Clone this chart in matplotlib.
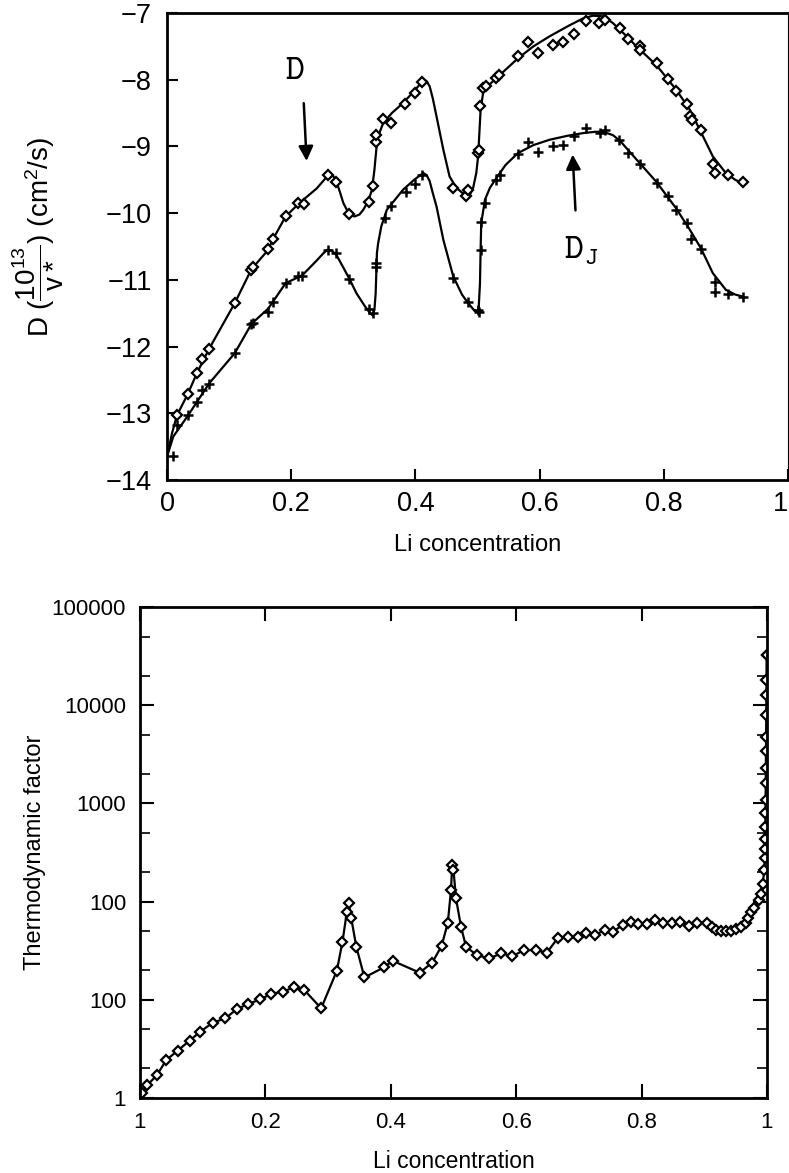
import matplotlib
matplotlib.use('Agg')
import matplotlib.pyplot as plt
from matplotlib.ticker import FixedLocator, NullFormatter

plt.rcParams['font.family'] = ['Liberation Sans', 'DejaVu Sans']
plt.rcParams['mathtext.fontset'] = 'custom'
plt.rcParams['mathtext.rm'] = 'Liberation Sans'
plt.rcParams['mathtext.it'] = 'Liberation Sans:italic'

# ---- top panel: log10 D and D_J (markers = simulation, line = fit) ----
d_x = [0.016, 0.034, 0.048, 0.056, 0.068, 0.109, 0.136, 0.138, 0.163, 0.170, 0.191,
       0.211, 0.220, 0.260, 0.272, 0.293, 0.325, 0.331, 0.336, 0.337, 0.348, 0.361,
       0.383, 0.399, 0.411, 0.460, 0.481, 0.485, 0.501, 0.502, 0.504, 0.509, 0.514,
       0.530, 0.535, 0.565, 0.581, 0.597, 0.622, 0.638, 0.656, 0.674, 0.696, 0.705,
       0.729, 0.742, 0.761, 0.762, 0.789, 0.807, 0.820, 0.837, 0.843, 0.845, 0.860,
       0.880, 0.882, 0.903, 0.927]
d_y = [-13.03, -12.71, -12.40, -12.18, -12.03, -11.35, -10.85, -10.80, -10.53, -10.38, -10.04,
       -9.85, -9.86, -9.43, -9.53, -10.02, -9.84, -9.59, -8.93, -8.83, -8.59, -8.65,
       -8.36, -8.20, -8.03, -9.63, -9.75, -9.65, -9.10, -9.05, -8.39, -8.13, -8.10,
       -7.98, -7.93, -7.64, -7.44, -7.60, -7.48, -7.44, -7.31, -7.12, -7.15, -7.10,
       -7.23, -7.39, -7.50, -7.55, -7.75, -7.99, -8.17, -8.36, -8.55, -8.60, -8.75,
       -9.26, -9.40, -9.43, -9.54]

dj_x = [0.009, 0.016, 0.034, 0.048, 0.056, 0.068, 0.109, 0.136, 0.138, 0.163, 0.170,
        0.191, 0.211, 0.218, 0.260, 0.272, 0.293, 0.326, 0.331, 0.337, 0.337, 0.351,
        0.360, 0.385, 0.399, 0.411, 0.461, 0.485, 0.501, 0.502, 0.505, 0.506, 0.512,
        0.530, 0.536, 0.565, 0.581, 0.597, 0.622, 0.638, 0.655, 0.674, 0.697, 0.705,
        0.728, 0.742, 0.762, 0.789, 0.807, 0.820, 0.837, 0.844, 0.860, 0.882, 0.882,
        0.903, 0.927]
dj_y = [-13.64, -13.18, -13.03, -12.83, -12.65, -12.56, -12.10, -11.66, -11.64, -11.48, -11.33,
        -11.05, -10.94, -10.94, -10.55, -10.60, -10.99, -11.43, -11.49, -10.75, -10.80, -10.08,
        -9.90, -9.68, -9.57, -9.43, -10.97, -11.33, -11.45, -11.48, -10.55, -10.14, -9.85,
        -9.50, -9.43, -9.11, -8.93, -9.08, -8.99, -8.98, -8.84, -8.73, -8.80, -8.76,
        -8.90, -9.10, -9.26, -9.55, -9.75, -9.96, -10.15, -10.38, -10.53, -11.03, -11.18,
        -11.21, -11.25]

# fitted curves
d_fit_x = [0.0, 0.008, 0.016, 0.034, 0.048, 0.068, 0.109, 0.136, 0.163, 0.170, 0.191, 0.213,
           0.241, 0.255, 0.262, 0.268, 0.273, 0.279, 0.284, 0.293, 0.302, 0.310, 0.316,
           0.324, 0.330, 0.334, 0.337, 0.340, 0.348, 0.362, 0.380, 0.398, 0.408, 0.413,
           0.418, 0.423, 0.428, 0.434, 0.445, 0.455, 0.466, 0.476, 0.482, 0.488, 0.493,
           0.498, 0.501, 0.503, 0.505, 0.509, 0.516, 0.530, 0.565, 0.590, 0.616, 0.645,
           0.670, 0.686, 0.702, 0.718, 0.737, 0.756, 0.788, 0.820, 0.842, 0.858, 0.879,
           0.900, 0.915, 0.927]
d_fit_y = [-13.65, -13.30, -13.03, -12.70, -12.40, -12.03, -11.35, -10.84, -10.55, -10.40,
           -10.05, -9.85, -9.63, -9.48, -9.42, -9.45, -9.53, -9.70, -9.85, -10.01, -10.05,
           -10.02, -9.95, -9.82, -9.65, -9.35, -9.05, -8.85, -8.65, -8.50, -8.35, -8.17,
           -8.06, -8.01, -8.02, -8.10, -8.28, -8.55, -9.05, -9.45, -9.62, -9.70, -9.73,
           -9.72, -9.62, -9.40, -9.15, -8.80, -8.45, -8.20, -8.10, -7.98, -7.68, -7.50,
           -7.35, -7.20, -7.08, -7.04, -7.05, -7.15, -7.32, -7.50, -7.78, -8.15, -8.45,
           -8.75, -9.15, -9.40, -9.50, -9.55]

dj_fit_x = [0.0, 0.010, 0.034, 0.068, 0.109, 0.136, 0.163, 0.191, 0.218, 0.240, 0.252,
            0.258, 0.265, 0.273, 0.283, 0.294, 0.305, 0.319, 0.327, 0.331, 0.334, 0.336,
            0.337, 0.338, 0.340, 0.345, 0.354, 0.367, 0.380, 0.398, 0.408, 0.413, 0.418,
            0.423, 0.428, 0.434, 0.445, 0.461, 0.475, 0.485, 0.494, 0.500, 0.502, 0.504,
            0.505, 0.506, 0.512, 0.520, 0.530, 0.545, 0.565, 0.590, 0.616, 0.645, 0.670,
            0.690, 0.702, 0.718, 0.730, 0.745, 0.788, 0.820, 0.842, 0.860, 0.879, 0.900,
            0.915, 0.927]
dj_fit_y = [-13.65, -13.35, -13.03, -12.55, -12.10, -11.66, -11.43, -11.05, -10.93, -10.72,
            -10.60, -10.55, -10.56, -10.63, -10.80, -10.99, -11.20, -11.40, -11.50, -11.53,
            -11.45, -11.20, -10.90, -10.60, -10.45, -10.20, -9.95, -9.80, -9.65, -9.50,
            -9.43, -9.40, -9.43, -9.52, -9.70, -9.90, -10.40, -10.95, -11.22, -11.35, -11.45,
            -11.48, -11.40, -11.05, -10.55, -10.15, -9.80, -9.62, -9.48, -9.28, -9.10, -8.98,
            -8.90, -8.84, -8.80, -8.78, -8.78, -8.83, -8.92, -9.08, -9.53, -9.93, -10.25,
            -10.53, -10.90, -11.15, -11.22, -11.25]

top_xticks = [0, 0.2, 0.4, 0.6, 0.8, 1]
top_xticklabels = ['0', '0.2', '0.4', '0.6', '0.8', '1']
top_yticks = [-14, -13, -12, -11, -10, -9, -8, -7]

# ---- bottom panel: thermodynamic factor ----
tf_x = [0.004, 0.012, 0.027, 0.042, 0.060, 0.079, 0.096, 0.116, 0.136, 0.154, 0.172,
        0.192, 0.209, 0.228, 0.245, 0.262, 0.289, 0.314, 0.323, 0.330, 0.333, 0.337,
        0.345, 0.358, 0.389, 0.403, 0.446, 0.466, 0.481, 0.491, 0.496, 0.498, 0.500,
        0.504, 0.512, 0.520, 0.537, 0.557, 0.576, 0.594, 0.613, 0.631, 0.649, 0.666,
        0.682, 0.698, 0.712, 0.726, 0.741, 0.754, 0.770, 0.783, 0.795, 0.808, 0.822,
        0.834, 0.849, 0.861, 0.875, 0.889, 0.904, 0.913, 0.919, 0.927, 0.935, 0.943,
        0.951, 0.959, 0.966, 0.969, 0.975, 0.980, 0.987, 0.991, 0.993, 0.996, 0.9965,
        0.997, 0.9972, 0.9974, 0.9976, 0.9978, 0.998, 0.9982, 0.9984, 0.9986, 0.9988,
        0.999, 0.9992, 0.9994, 0.9996]
tf_y = [1.12, 1.36, 1.71, 2.44, 3.03, 3.84, 4.73, 5.85, 6.47, 8.00, 9.06,
        10.1, 11.5, 12.1, 13.4, 12.6, 8.2, 19.8, 39.1, 78.9, 96.2, 67.6,
        34.8, 16.9, 21.4, 25.0, 18.9, 23.9, 35.3, 61.0, 131, 236, 210,
        108, 55.6, 34.8, 28.6, 26.4, 29.7, 27.9, 32.1, 32.1, 30.2, 42.3,
        43.3, 43.3, 47.5, 45.7, 51.4, 49.4, 57.8, 62.4, 59.2, 59.2, 65.0,
        60.1, 61.0, 62.4, 56.5, 61.0, 61.0, 55.6, 51.4, 50.6, 50.2, 50.6,
        52.2, 55.6, 60.1, 67.6, 78.9, 85.5, 104, 121, 153, 210, 276,
        347, 436, 580, 793, 1084, 1603, 2280, 3441, 4775, 7909,
        12700, 17990, 32400, 32400]

bot_xticks = [0, 0.2, 0.4, 0.6, 0.8, 1]
bot_xticklabels = ['1', '0.2', '0.4', '0.6', '0.8', '1']
bot_yticks = [1, 10, 100, 1000, 10000, 100000]
bot_yticklabels = ['1', '100', '100', '1000', '10000', '100000']
bot_yminor = [2, 5, 20, 50, 200, 500, 2000, 5000, 20000, 50000]

fig = plt.figure(figsize=(7.89, 11.73), dpi=100)

# top panel
ax1 = fig.add_axes([0.2117, 0.5908, 0.7870, 0.3981])
ax1.plot(d_fit_x, d_fit_y, color='black', lw=1.6)
ax1.plot(dj_fit_x, dj_fit_y, color='black', lw=1.6)
ax1.plot(d_x, d_y, ls='none', marker='D', ms=4.8, mfc='white', mec='black', mew=1.6)
ax1.plot(dj_x, dj_y, ls='none', marker='+', ms=7, mec='black', mew=1.8)
ax1.set_xlim(0, 1)
ax1.set_ylim(-14, -7)
ax1.set_xticks(top_xticks)
ax1.set_xticklabels(top_xticklabels)
ax1.set_yticks(top_yticks)
ax1.tick_params(direction='in', length=8, width=1.5, labelsize=19.5, top=False, right=False)
ax1.tick_params(axis='y', pad=11)
ax1.tick_params(axis='x', pad=8)
ax1.get_xticklabels()[-1].set_horizontalalignment('right')
for side in ['left', 'bottom', 'top']:
    ax1.spines[side].set_linewidth(2)
ax1.spines['right'].set_linewidth(0.8)
ax1.set_xlabel('Li concentration', fontsize=17, labelpad=12)
ax1.set_ylabel(r'D ($\dfrac{10^{13}}{\mathrm{v}*}$) (cm$^2$/s)', fontsize=20)
ax1.yaxis.set_label_coords(-0.163, 0.52)

ax1.text(0.205, -7.85, r'$\mathtt{D}$', math_fontfamily='cm', fontsize=26,
         ha='center', va='center')
ax1.annotate('', xy=(0.225, -9.26), xytext=(0.220, -8.31),
             arrowprops=dict(arrowstyle='-|>', color='black', lw=1.8, mutation_scale=22))
ax1.text(0.667, -10.55, r'$\mathtt{D}_\mathtt{J}$', math_fontfamily='cm', fontsize=26,
         ha='center', va='center')
ax1.annotate('', xy=(0.653, -9.08), xytext=(0.658, -10.0),
             arrowprops=dict(arrowstyle='-|>', color='black', lw=1.8, mutation_scale=22))

# bottom panel
ax2 = fig.add_axes([0.1774, 0.0639, 0.7947, 0.4186])
ax2.plot(tf_x, tf_y, color='black', lw=1.6, marker='D', ms=5.3, mfc='white',
         mec='black', mew=1.6)
ax2.set_yscale('log')
ax2.set_xlim(0, 1)
ax2.set_ylim(1, 100000)
ax2.set_xticks(bot_xticks)
ax2.set_xticklabels(bot_xticklabels)
ax2.set_yticks(bot_yticks)
ax2.set_yticklabels(bot_yticklabels)
ax2.yaxis.set_minor_locator(FixedLocator(bot_yminor))
ax2.yaxis.set_minor_formatter(NullFormatter())
ax2.tick_params(which='major', direction='in', length=10, width=1.5, labelsize=16,
                pad=10, top=True, right=True)
ax2.tick_params(which='minor', direction='in', length=7, width=1.2, right=True)
for side in ax2.spines:
    ax2.spines[side].set_linewidth(2)
ax2.set_xlabel('Li concentration', fontsize=16.5, labelpad=12)
ax2.set_ylabel('Thermodynamic factor', fontsize=17)
ax2.yaxis.set_label_coords(-0.15, 0.5)

fig.savefig('out.png', dpi=100)
